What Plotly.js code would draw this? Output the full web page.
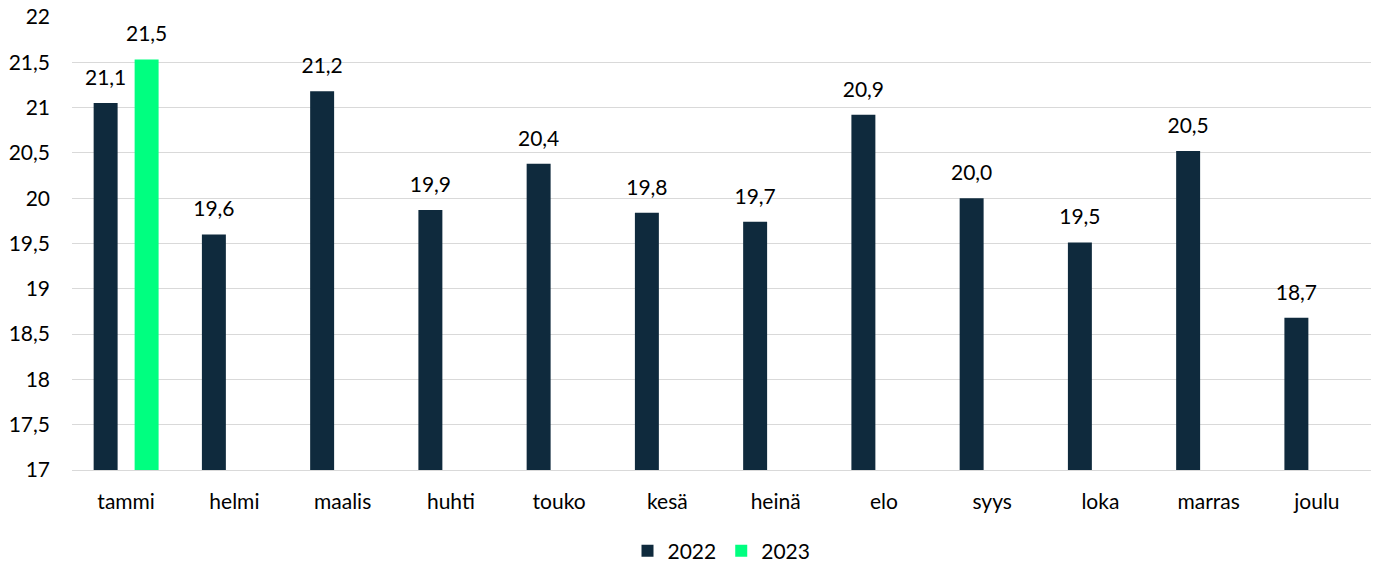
<!DOCTYPE html>
<html><head><meta charset="utf-8">
<script src="https://cdn.plot.ly/plotly-3.0.1.min.js"></script>
<style>html,body{margin:0;padding:0;background:#fff}</style>
</head><body>
<div id="chart" style="width:1381px;height:565px"></div>
<script>
const months = ['tammi','helmi','maalis','huhti','touko','kesä','heinä','elo','syys','loka','marras','joulu'];
const values2022 = [21.05,19.6,21.18,19.87,20.38,19.84,19.74,20.92,20.0,19.51,20.52,18.68];
const values2023 = [21.53,null,null,null,null,null,null,null,null,null,null,null];
const yTicks = [17,17.5,18,18.5,19,19.5,20,20.5,21,21.5,22];
const seriesNames = ['2022','2023'];
const seriesColors = ['#0f2a3d','#00ff80'];
const seriesValues = [values2022, values2023];

const fam = 'Lato, Carlito, Calibri, sans-serif';
const FS = 21;
const GAP = 0.243;
const data = [];
seriesValues.forEach((vals, i) => {
  data.push({type:'bar', name:seriesNames[i], x:months, y:vals, marker:{color:seriesColors[i]},
    hoverinfo:'none'});
});
seriesValues.forEach((vals, i) => {
  data.push({type:'scatter', mode:'markers+text', name:seriesNames[i]+' labels', showlegend:false,
    x:months, y:vals, text:vals.map(v => v == null ? '' : v.toFixed(1).replace('.', ',')),
    textposition:'top center', cliponaxis:false,
    marker:{size:19, opacity:0, color:seriesColors[i]},
    textfont:{family:fam, size:FS, color:'#000'}, hoverinfo:'none'});
});
const layout = {
  width:1381, height:565,
  margin:{l:72, r:10, t:17, b:95, autoexpand:false},
  separators:',.',
  font:{family:fam, size:FS, color:'#000'},
  barmode:'group', bargap:GAP, bargroupgap:0.415,
  scattermode:'group', scattergap:GAP,
  plot_bgcolor:'#fff', paper_bgcolor:'#fff',
  xaxis:{type:'category', showgrid:false, showline:true, linecolor:'#d9d9d9', linewidth:1,
         ticks:'', ticklabelstandoff:13, tickfont:{size:FS}, automargin:false},
  yaxis:{range:[17,22], tickvals:yTicks, showgrid:true, gridcolor:'#d9d9d9', gridwidth:1,
         zeroline:false, showline:false, ticks:'', ticklabelstandoff:21, tickfont:{size:FS}, automargin:false},
  showlegend:true,
  legend:{orientation:'h', x:0.5, xanchor:'center', y:-0.179, yanchor:'middle',
          font:{size:FS}, itemwidth:30, traceorder:'normal'}
};
Plotly.newPlot('chart', data, layout, {displayModeBar:false, staticPlot:true});
</script>
</body></html>
